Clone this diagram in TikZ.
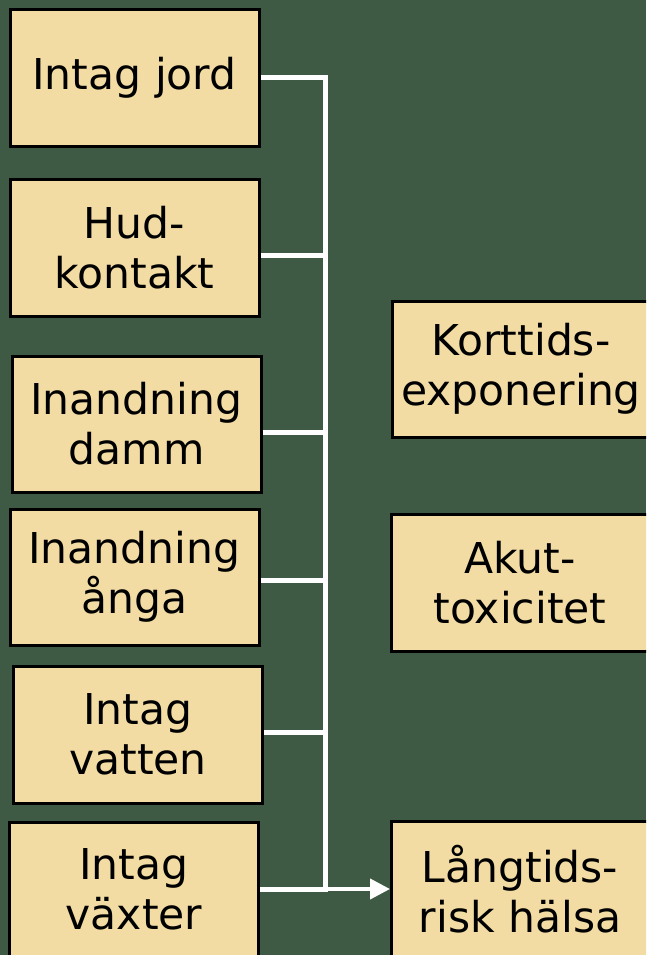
\documentclass[tikz,border=0pt]{standalone}
\usepackage{fontspec}
\setmainfont{DejaVu Sans}
\usetikzlibrary{arrows.meta}
\definecolor{bg}{RGB}{62,90,69}
\definecolor{sand}{RGB}{242,220,164}
\begin{document}
\begin{tikzpicture}[x=1pt,y=-1pt,
  box/.style={draw=black,line width=3pt,fill=sand,align=center,
    font=\fontsize{42.5}{50}\selectfont,inner sep=0pt},
  leftbox/.style={box,minimum width=249pt},
  rightbox/.style={box,minimum width=257pt},
  wire/.style={draw=white,line width=5pt},
  bus/.style={draw=white,line width=5pt,line cap=rect}]
\fill[bg] (0,0) rectangle (646,955);
\clip (0,0) rectangle (646,955);
\useasboundingbox (0,0) rectangle (646,955);

% sources of exposure
\node[leftbox,minimum height=136pt] (jord)   at (134.5,78)   {Intag jord};
\node[leftbox,minimum height=137pt] (hud)    at (134.5,247.5){Hud-\\kontakt};
\node[leftbox,minimum height=136pt] (damm)   at (136.5,424)  {Inandning\\damm};
\node[leftbox,minimum height=136pt] (anga)   at (134.5,577)  {Inandning\\ånga};
\node[leftbox,minimum height=137pt] (vatten) at (138,734.5)  {Intag\\vatten};
\node[leftbox,minimum height=135pt] (vaxter) at (134,889.5)  {Intag\\växter};

% outcomes
\node[rightbox,minimum height=136pt] (kort) at (521,369)   {Korttids-\\exponering};
\node[rightbox,minimum height=137pt] (akut) at (520,582.5) {Akut-\\toxicitet};
\node[rightbox,minimum height=136pt] (lang) at (520,889)   {Långtids-\\risk hälsa};

% junctions on the collecting line
\coordinate (j1) at (325,78);
\coordinate (j2) at (325,255);
\coordinate (j3) at (325,432);
\coordinate (j4) at (325,580);
\coordinate (j5) at (325,732);
\coordinate (j6) at (325,889);

\draw[bus] (j1) -- (j6);
\draw[wire] (jord.east |- j1) -- (j1);
\draw[wire] (hud.east |- j2) -- (j2);
\draw[wire] (damm.east |- j3) -- (j3);
\draw[wire] (anga.east |- j4) -- (j4);
\draw[wire] (vatten.east |- j5) -- (j5);
\draw[wire] (vaxter.east |- j6) -- (j6);
\draw[draw=white,line width=4pt,-{Triangle[length=20pt,width=20pt]}] (j6) -- (lang.west);
\end{tikzpicture}
\end{document}
